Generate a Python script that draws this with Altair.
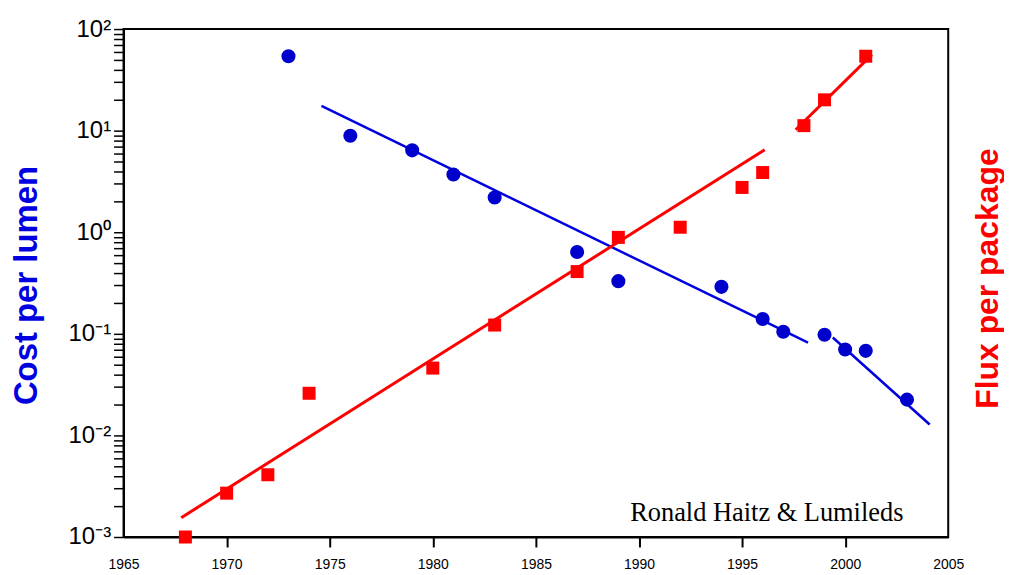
import altair as alt
import pandas as pd

# ---- data ----
blue_years = [1973, 1976, 1979, 1981, 1983, 1987, 1989, 1994, 1996, 1997, 1999, 2000, 2001, 2003]
blue_cost = [54, 8.9, 6.4, 3.7, 2.2, 0.64, 0.33, 0.29, 0.14, 0.105, 0.098, 0.070, 0.068, 0.0225]

red_years = [1968, 1970, 1972, 1974, 1980, 1983, 1987, 1989, 1992, 1995, 1996, 1998, 1999, 2001]
red_flux = [0.001, 0.0027, 0.0041, 0.026, 0.046, 0.122, 0.41, 0.89, 1.12, 2.76, 3.87, 11.2, 20.1, 54]

blue_fit_years = [1974.6, 1998.2, 1999.4, 2004.1]
blue_fit_vals = [17.5, 0.082, 0.092, 0.0128]
blue_fit_seg = [1, 1, 2, 2]

red_fit_years = [1967.8, 1996.1, 1997.6, 2001.3]
red_fit_vals = [0.00155, 6.5, 10.2, 56]
red_fit_seg = [1, 1, 2, 2]

x_ticks = [1965, 1970, 1975, 1980, 1985, 1990, 1995, 2000, 2005]
y_decades = [-3, -2, -1, 0, 1, 2]
credit_text = ["Ronald Haitz & Lumileds"]
credit_year = [1996.2]
credit_value = [0.00144]

# ---- tables ----
blue_df = pd.DataFrame({"year": blue_years, "value": blue_cost})
red_df = pd.DataFrame({"year": red_years, "value": red_flux})
blue_fit = pd.DataFrame({"year": blue_fit_years, "value": blue_fit_vals, "seg": blue_fit_seg})
red_fit = pd.DataFrame({"year": red_fit_years, "value": red_fit_vals, "seg": red_fit_seg})
credit_df = pd.DataFrame({"year": credit_year, "value": credit_value, "text": credit_text})

y_values = []
for e in y_decades[:-1]:
    for k in range(1, 10):
        y_values.append(float(f"{k}e{e}"))
y_values.append(float(f"1e{y_decades[-1]}"))

sup = {"-": "\u207b", "0": "\u2070", "1": "\u00b9", "2": "\u00b2", "3": "\u00b3"}
exp = "round(log(datum.value)/LN10)"
inner = "''"
for e in y_decades:
    s = "10" + "".join(sup[c] for c in str(e))
    inner = f"({exp} == {e} ? '{s}' : {inner})"
label_expr = f"abs(log(datum.value)/LN10 - {exp}) > 0.001 ? '' : {inner}"

FONT = "Liberation Sans"
BLUE = "#0000e0"
RED = "#ff0000"

x_axis = alt.Axis(
    values=x_ticks, format="d", tickSize=10, tickWidth=2, tickColor="black",
    tickOpacity={"condition": {"test": "datum.value == 1965 || datum.value == 2005", "value": 0}, "value": 1},
    domainColor="black", domainWidth=2, labelPadding=11, labelFont=FONT, labelFontSize=14,
    labelColor="black", labelFlush=False, labelOverlap=False, grid=False, title=None,
)
x_enc = alt.X("year:Q", scale=alt.Scale(domain=[1965, 2005], nice=False, zero=False), axis=x_axis)

y_scale = alt.Scale(type="log", domain=[0.001, 100], nice=False)

left_axis = alt.Axis(
    values=y_values, labelExpr=label_expr, tickSize=10, tickWidth=1.5, tickColor="black",
    domainColor="black", domainWidth=2, labelFont=FONT, labelFontSize=24, labelColor="black",
    labelPadding=3, labelOverlap=False, grid=False,
    title="Cost per lumen", titleColor=BLUE, titleFont=FONT, titleFontSize=33,
    titleFontWeight="bold", titleAngle=270, titleX=-97, titleY=257,
    titleBaseline="middle", titleAlign="center",
)
right_axis = alt.Axis(
    orient="right", labels=False, ticks=False, domain=False, grid=False,
    title="Flux per package", titleColor=RED, titleFont=FONT, titleFontSize=32,
    titleFontWeight="bold", titleAngle=270, titleX=39, titleY=250,
    titleBaseline="middle", titleAlign="center",
)

blue_pts = alt.Chart(blue_df).mark_circle(size=200, color="#0000cc", opacity=1).encode(
    x=x_enc, y=alt.Y("value:Q", scale=y_scale, axis=left_axis)
)
blue_line = alt.Chart(blue_fit).mark_line(color=BLUE, strokeWidth=2.5).encode(
    x=x_enc, y=alt.Y("value:Q", scale=y_scale, axis=left_axis), detail="seg:N"
)
credit = alt.Chart(credit_df).mark_text(
    font="Liberation Serif", fontSize=26.5, color="black", align="center", baseline="alphabetic"
).encode(x=x_enc, y=alt.Y("value:Q", scale=y_scale, axis=left_axis), text="text:N")

red_pts = alt.Chart(red_df).mark_square(size=170, color=RED, opacity=1).encode(
    x=x_enc, y=alt.Y("value:Q", scale=y_scale, axis=right_axis)
)
red_line = alt.Chart(red_fit).mark_line(color=RED, strokeWidth=3).encode(
    x=x_enc, y=alt.Y("value:Q", scale=y_scale, axis=right_axis), detail="seg:N"
)

left_layer = alt.layer(blue_line, blue_pts, credit)
right_layer = alt.layer(red_line, red_pts)

chart = alt.layer(left_layer, right_layer).resolve_scale(y="independent").properties(
    width=828, height=510,
    autosize=alt.AutoSizeParams(type="none"),
    padding={"left": 116, "top": 20, "right": 56, "bottom": 35},
    background="white",
).configure_view(stroke="black", strokeWidth=2)

chart.save("out.html", embed_options={"renderer": "svg", "actions": False})
